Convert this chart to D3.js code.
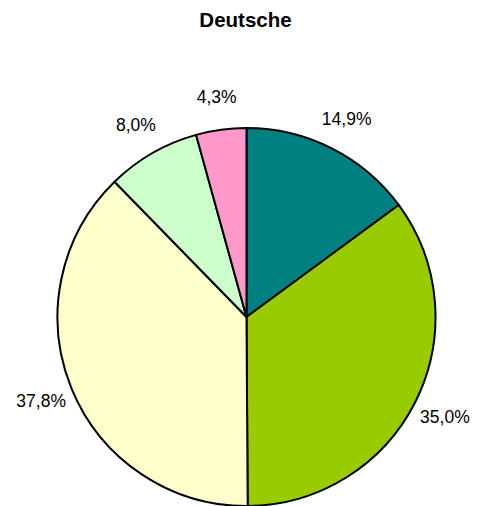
<!DOCTYPE html>
<html>
<head>
<meta charset="utf-8">
<script src="https://cdn.jsdelivr.net/npm/d3@7"></script>
<style>
  body { margin: 0; background: #fff; }
  text { font-family: "Liberation Sans", Arial, sans-serif; }
</style>
</head>
<body>
<div class="chart"></div>
<script>
var title = "Deutsche";
var categories = ["A", "B", "C", "D", "E"];
var values = [14.9, 35.0, 37.8, 8.0, 4.3];
var colors = ["#008080", "#99CC00", "#FFFFCC", "#CCFFCC", "#FF99CC"];

var width = 477,
    height = 506,
    radius = 189,
    cx = 246.5,
    cy = 317;

var svg = d3.select(".chart")
  .append("svg")
    .attr("width", width)
    .attr("height", height);

svg.append("text")
    .attr("x", 245.5)
    .attr("y", 27)
    .attr("text-anchor", "middle")
    .attr("font-size", "20.5px")
    .attr("font-weight", "bold")
    .text(title);

var data = categories.map(function(c, i) {
    return {name: c, value: values[i], color: colors[i]};
});

var pie = d3.pie()
    .sort(null)
    .value(function(d) { return d.value; });

var arc = d3.arc()
    .innerRadius(0)
    .outerRadius(radius);

var labelArc = d3.arc()
    .innerRadius(222)
    .outerRadius(222);

var g = svg.append("g")
    .attr("transform", "translate(" + cx + "," + cy + ")");

var arcs = pie(data);

g.selectAll("path")
  .data(arcs)
  .enter()
  .append("path")
    .attr("d", arc)
    .attr("fill", function(d) { return d.data.color; })
    .attr("stroke", "#000")
    .attr("stroke-width", 2)
    .attr("stroke-linejoin", "round");

var fmt = function(v) { return v.toFixed(1).replace(".", ",") + "%"; };

g.selectAll(".label")
  .data(arcs)
  .enter()
  .append("text")
    .attr("class", "label")
    .attr("transform", function(d) { return "translate(" + labelArc.centroid(d) + ")"; })
    .attr("text-anchor", "middle")
    .attr("dy", "0.35em")
    .attr("font-size", "17.5px")
    .attr("fill", "#000")
    .text(function(d) { return fmt(d.data.value); });
</script>
</body>
</html>
